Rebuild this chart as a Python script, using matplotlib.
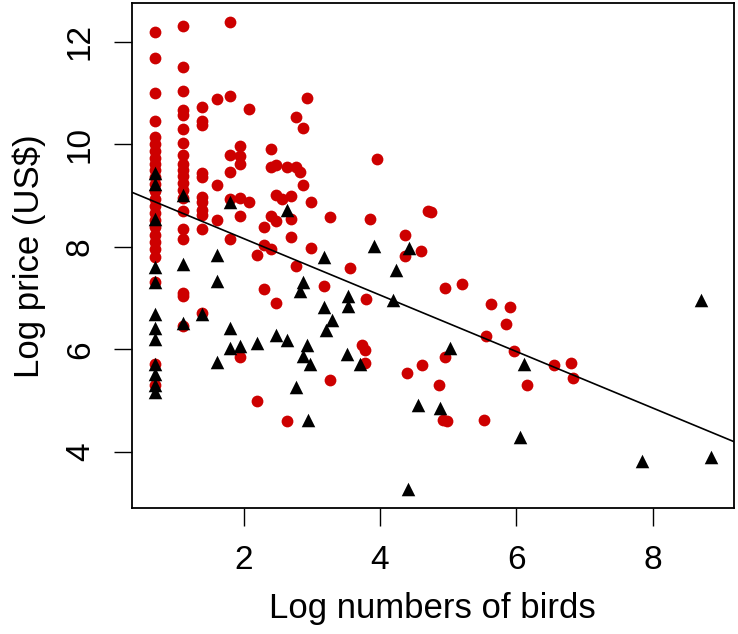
import matplotlib
matplotlib.use("Agg")
import matplotlib.pyplot as plt

plt.rcParams['font.family'] = ['Liberation Sans', 'DejaVu Sans']

# red circles (log numbers of birds, log price)
red_x = ([0.69] * 25 + [1.10] * 20 + [1.39] * 11 + [1.61] * 3 + [1.79] * 6 + [1.95] * 6 +
         [2.08, 2.08, 2.20, 2.20, 2.30, 2.30, 2.30, 2.40, 2.40, 2.40, 2.40,
          2.47, 2.47, 2.47, 2.47, 2.56, 2.63, 2.63, 2.69, 2.69, 2.69,
          2.76, 2.76, 2.76, 2.83, 2.87, 2.87, 2.93, 2.98, 2.98,
          3.17, 3.26, 3.26, 3.56, 3.73, 3.78, 3.78, 3.79, 3.85, 3.95,
          4.37, 4.37, 4.39, 4.60, 4.61, 4.70, 4.75, 4.86, 4.93, 4.99,
          4.95, 4.96, 5.20, 5.53, 5.56, 5.63, 5.85, 5.91, 5.97, 6.16,
          6.55, 6.80, 6.83])
red_y = ([12.19, 11.68, 10.99, 10.46, 10.14, 10.00, 9.87, 9.74, 9.62, 9.50, 9.36, 9.22,
          9.08, 8.94, 8.80, 8.66, 8.52, 8.38, 8.24, 8.10, 7.95, 7.80, 7.31, 5.72, 5.30] +
         [12.31, 11.50, 11.03, 10.66, 10.57, 10.30, 10.03, 9.79, 9.62, 9.49, 9.38,
          9.25, 9.10, 8.95, 8.70, 8.34, 8.15, 7.10, 7.05, 6.45] +
         [10.72, 10.46, 10.37, 9.44, 9.36, 8.97, 8.88, 8.71, 8.62, 8.34, 6.72] +
         [10.88, 9.20, 8.52] +
         [12.38, 10.94, 9.79, 9.46, 8.94, 8.16] +
         [9.97, 9.77, 9.61, 8.96, 8.60, 5.85] +
         [10.68, 8.87, 7.84, 4.99, 8.39, 8.03, 7.17, 9.90, 9.56, 8.60, 7.95,
          9.59, 9.02, 8.50, 6.91, 8.94, 9.56, 4.60, 9.00, 8.55, 8.19,
          10.53, 9.56, 7.62, 9.46, 10.31, 9.21, 10.90, 8.88, 7.97,
          7.24, 8.58, 5.41, 7.58, 6.08, 5.98, 5.73, 6.99, 8.55, 9.72,
          8.23, 7.82, 5.55, 7.92, 5.70, 8.70, 8.68, 5.31, 4.62, 4.60,
          7.19, 5.86, 7.27, 4.62, 6.27, 6.89, 6.50, 6.83, 5.96, 5.31,
          5.69, 5.73, 5.44])

# black triangles
tri_x = ([0.69] * 12 + [1.10] * 3 + [1.39] + [1.61] * 3 + [1.79] * 3 +
         [1.95, 2.20, 2.47, 2.63, 2.63, 2.77, 2.83, 2.87, 2.87, 2.93, 2.94, 2.97,
          3.17, 3.17, 3.20, 3.30, 3.51, 3.53, 3.53, 3.71, 3.91, 4.19, 4.23,
          4.41, 4.43, 4.56, 4.88, 5.02, 6.05, 6.11, 7.84, 8.71, 8.86])
tri_y = [9.43, 9.23, 8.55, 7.61, 7.31, 6.70, 6.41, 6.21, 5.72, 5.53, 5.30, 5.17,
         9.01, 7.67, 6.51, 6.70, 7.84, 7.33, 5.75, 8.88, 6.41, 6.02,
         6.06, 6.12, 6.29, 8.71, 6.18, 5.27, 7.14, 7.31, 5.88, 6.08, 4.62, 5.72,
         7.81, 6.83, 6.37, 6.58, 5.92, 7.05, 6.84, 5.72, 8.02, 6.96, 7.54,
         3.28, 7.97, 4.91, 4.85, 6.03, 4.29, 5.72, 3.82, 6.97, 3.90]

# fitted line
intercept = 9.26
slope = -0.55

fig = plt.figure(figsize=(7.38, 6.34), dpi=100)
ax = fig.add_axes([0.179, 0.198, 0.815, 0.797])

ax.scatter(red_x, red_y, s=72, color='#CD0000', marker='o', linewidths=0, zorder=2)
ax.scatter(tri_x, tri_y, s=95, color='black', marker='^', linewidths=0, zorder=3)
ax.axline((0, intercept), slope=slope, color='black', lw=1.2, zorder=4)

ax.set_xlim(0.36, 9.19)
ax.set_ylim(2.9, 12.75)
ax.set_xticks([2, 4, 6, 8])
ax.set_yticks([4, 6, 8, 10, 12])
ax.tick_params(labelsize=24, length=13, width=1, pad=13)
for lab in ax.get_yticklabels():
    lab.set_rotation(90)
    lab.set_va('center')
for sp in ax.spines.values():
    sp.set_linewidth(1.3)

ax.set_xlabel('Log numbers of birds', fontsize=25, labelpad=12)
ax.set_ylabel('Log price (US$)', fontsize=25, labelpad=14)

fig.savefig('out.png', dpi=100)
